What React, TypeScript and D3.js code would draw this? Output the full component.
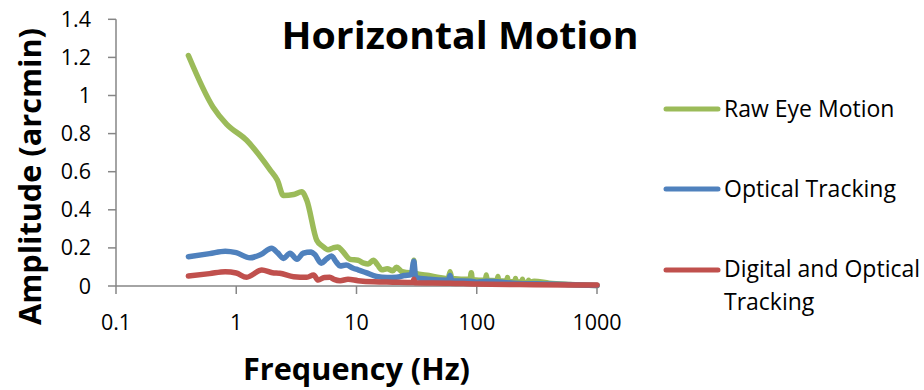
import * as d3 from "d3";

// frequencies (Hz) and amplitudes (arcmin)
const rawFreq = [0.4, 0.64, 0.83, 1.22, 1.91, 2.2, 2.47, 3.0, 3.5, 3.86, 4.67, 5.2, 5.8, 6.4, 7.0, 7.6, 8.85, 10.3, 11.5, 12.5, 13.8, 15, 16.2, 18, 20, 21.5, 24, 27.8, 29.5, 30, 30.5, 40, 58, 60, 62, 88, 90, 92, 118, 120, 122, 148, 150, 152, 178, 180, 182, 208, 210, 212, 238, 240, 242, 268, 270, 272, 300, 400, 600, 1000];
const rawAmp = [1.21, 0.94, 0.85, 0.765, 0.61, 0.555, 0.475, 0.48, 0.495, 0.45, 0.24, 0.21, 0.19, 0.2, 0.205, 0.185, 0.14, 0.135, 0.12, 0.115, 0.135, 0.11, 0.085, 0.09, 0.08, 0.098, 0.075, 0.07, 0.07, 0.135, 0.068, 0.055, 0.04, 0.075, 0.04, 0.035, 0.07, 0.033, 0.03, 0.058, 0.03, 0.028, 0.05, 0.027, 0.025, 0.045, 0.025, 0.022, 0.04, 0.022, 0.02, 0.035, 0.02, 0.018, 0.03, 0.018, 0.025, 0.015, 0.008, 0.002];

const optFreq = [0.4, 0.6, 0.81, 1.0, 1.3, 1.6, 1.97, 2.2, 2.47, 2.8, 3.2, 3.6, 4.2, 4.5, 5.1, 5.6, 6.2, 6.8, 7.3, 8.2, 9.4, 10.3, 12, 14.7, 18, 21.5, 25, 28.5, 30, 31, 40, 58, 60, 62, 90, 100, 120, 200, 400, 1000];
const optAmp = [0.154, 0.17, 0.183, 0.175, 0.148, 0.165, 0.198, 0.175, 0.145, 0.172, 0.14, 0.172, 0.178, 0.165, 0.12, 0.14, 0.157, 0.125, 0.105, 0.11, 0.093, 0.085, 0.07, 0.05, 0.045, 0.046, 0.055, 0.06, 0.13, 0.045, 0.035, 0.03, 0.055, 0.028, 0.025, 0.02, 0.025, 0.015, 0.01, 0.003];

const digFreq = [0.4, 0.6, 0.81, 1.0, 1.22, 1.63, 2.0, 2.3, 3.0, 3.86, 4.4, 4.8, 5.4, 6.0, 6.5, 7.3, 8.5, 10.3, 14, 20, 29.5, 30, 30.5, 60, 100, 300, 1000];
const digAmp = [0.052, 0.065, 0.075, 0.068, 0.046, 0.084, 0.07, 0.067, 0.049, 0.046, 0.058, 0.031, 0.045, 0.046, 0.035, 0.028, 0.035, 0.028, 0.022, 0.02, 0.018, 0.035, 0.017, 0.015, 0.01, 0.007, 0.005];

const seriesNames = ["Raw Eye Motion", "Optical Tracking", "Digital and Optical Tracking"];
const seriesColors = ["#9BBB59", "#4F81BD", "#C0504D"];
const xTicks = [0.1, 1, 10, 100, 1000];
const yTicks = [0, 0.2, 0.4, 0.6, 0.8, 1, 1.2, 1.4];

const W = 924;
const H = 390;
const font = "'Open Sans', sans-serif";
const axisColor = "#868686";

export default function App() {
  const x = d3.scaleLog().domain([0.1, 1000]).range([116, 597]);
  const y = d3.scaleLinear().domain([0, 1.4]).range([286, 19.3]);

  const series = [
    { name: seriesNames[0], color: seriesColors[0], pts: rawFreq.map((f, i) => [f, rawAmp[i]]) },
    { name: seriesNames[1], color: seriesColors[1], pts: optFreq.map((f, i) => [f, optAmp[i]]) },
    { name: seriesNames[2], color: seriesColors[2], pts: digFreq.map((f, i) => [f, digAmp[i]]) },
  ];

  const lineGen = d3
    .line<number[]>()
    .x((d) => x(d[0]))
    .y((d) => y(d[1]))
    .curve(d3.curveMonotoneX);

  // legend rows (y of the swatch)
  const legendY = [109, 189, 270];

  return (
    <div style={{ position: "fixed", left: 0, top: 0 }}>
      <svg width={W} height={H} style={{ display: "block", background: "#fff" }}>
        {/* title */}
        <text x={460} y={49} textAnchor="middle" fontFamily={font} fontWeight="bold" fontSize={37} fill="#000"
          textLength={357} lengthAdjust="spacingAndGlyphs">
          Horizontal Motion
        </text>

        {/* y axis */}
        <line x1={116} x2={116} y1={y(1.4)} y2={y(0)} stroke={axisColor} strokeWidth={1.5} />
        {yTicks.map((t) => (
          <g key={"y" + t}>
            <line x1={108} x2={116} y1={y(t)} y2={y(t)} stroke={axisColor} strokeWidth={1.5} />
            <text x={91} y={y(t) + 7.5} textAnchor="end" fontFamily={font} fontSize={21.5} fill="#000">
              {String(t)}
            </text>
          </g>
        ))}

        {/* x axis */}
        <line x1={x(0.1)} x2={x(1000)} y1={y(0)} y2={y(0)} stroke={axisColor} strokeWidth={1.5} />
        {xTicks.map((t) => (
          <g key={"x" + t}>
            <line x1={x(t)} x2={x(t)} y1={y(0)} y2={y(0) + 8} stroke={axisColor} strokeWidth={1.5} />
            <text x={x(t)} y={329.5} textAnchor="middle" fontFamily={font} fontSize={21.5} fill="#000">
              {String(t)}
            </text>
          </g>
        ))}

        {/* axis titles */}
        <text x={356.5} y={380} textAnchor="middle" fontFamily={font} fontWeight="bold" fontSize={31} fill="#000"
          textLength={227} lengthAdjust="spacingAndGlyphs">
          Frequency (Hz)
        </text>
        <text
          transform="translate(41,176.5) rotate(-90)"
          textAnchor="middle"
          fontFamily={font}
          fontWeight="bold"
          fontSize={30}
          fill="#000"
          textLength={297}
          lengthAdjust="spacingAndGlyphs"
        >
          Amplitude (arcmin)
        </text>

        {/* data lines */}
        {series.map((s) => (
          <path
            key={s.name}
            d={lineGen(s.pts) || ""}
            fill="none"
            stroke={s.color}
            strokeWidth={5.5}
            strokeLinejoin="round"
            strokeLinecap="round"
          />
        ))}

        {/* legend */}
        {series.map((s, i) => (
          <line key={"lg" + i} x1={666} x2={718} y1={legendY[i]} y2={legendY[i]} stroke={s.color} strokeWidth={5} strokeLinecap="round" />
        ))}
        <text x={724} y={116.5} fontFamily={font} fontSize={23} fill="#000">Raw Eye Motion</text>
        <text x={724} y={196.5} fontFamily={font} fontSize={23} fill="#000">Optical Tracking</text>
        <text x={724} y={277} fontFamily={font} fontSize={23} fill="#000">Digital and Optical</text>
        <text x={724} y={310} fontFamily={font} fontSize={23} fill="#000">Tracking</text>
      </svg>
    </div>
  );
}
